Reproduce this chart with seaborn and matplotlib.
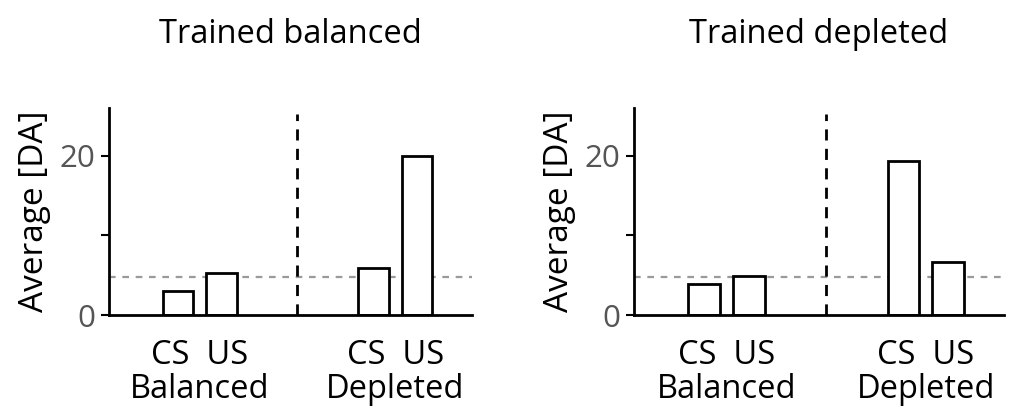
import numpy as np
import pandas as pd
import matplotlib
matplotlib.use("Agg")
import matplotlib.pyplot as plt
import seaborn as sns

# Data
panels = ["Trained balanced", "Trained depleted"]
groups = ["Balanced", "Depleted"]
stimuli = ["CS", "US"]
balanced_panel = [3.0, 5.3, 5.95, 20.0]   # CS/US balanced, CS/US depleted
depleted_panel = [3.9, 4.85, 19.4, 6.7]
baseline = [4.75, 4.75]
yticks = [0, 10, 20]
ytick_labels = ["0", "", "20"]

sns.set_theme(style="ticks")
plt.rcParams["font.family"] = ["Open Sans", "DejaVu Sans"]
plt.rcParams["text.color"] = "black"

group_gap = 4.45   # distance between group starts, in bar spacings
rows = []
for p, vals in zip(panels, [balanced_panel, depleted_panel]):
    k = 0
    for gi, g in enumerate(groups):
        for si, s in enumerate(stimuli):
            rows.append({"panel": p, "group": g, "stimulus": s,
                         "xpos": gi * group_gap + si, "value": vals[k]})
            k += 1
df = pd.DataFrame(rows)

fig = plt.figure(figsize=(10.11, 4.07), dpi=100)
ax_pos = [[0.1078, 0.226, 0.359, 0.5086], [0.627, 0.226, 0.366, 0.5086]]

for i, p in enumerate(panels):
    ax = fig.add_axes(ax_pos[i])
    sub = df[df["panel"] == p]
    sns.barplot(data=sub, x="xpos", y="value", native_scale=True, width=0.7,
                color="white", edgecolor="black", linewidth=2, errorbar=None,
                ax=ax)
    ax.axhline(baseline[i], color="#9a9a9a", ls=(0, (3, 3)), lw=1.6, zorder=0.5)
    ax.axvline((group_gap + 1) / 2, ymin=0, ymax=0.97, color="black",
               ls=(0, (4, 3)), lw=2)
    ax.set_xlim(-1.57, 6.7)
    ax.set_ylim(0, 26)
    ax.set_yticks(yticks)
    ax.set_yticklabels(ytick_labels, color="#555555", fontsize=22.5)
    ax.set_xticks([0.5, group_gap + 0.5])
    ax.set_xticklabels([f"{s[0]}  {s[1]}\n{g}" for s, g in
                        [(stimuli, groups[0]), (stimuli, groups[1])]],
                       fontsize=23.5, linespacing=1.05, color="black")
    ax.tick_params(axis="x", length=0, pad=17)
    ax.tick_params(axis="y", length=6, width=1.5, color="black", pad=4)
    ax.set_xlabel("")
    ax.set_ylabel("Average [DA]", fontsize=24, labelpad=6, color="black")
    for side in ["top", "right"]:
        ax.spines[side].set_visible(False)
    for side in ["left", "bottom"]:
        ax.spines[side].set_linewidth(2)
        ax.spines[side].set_color("black")
    fig.text(ax_pos[i][0] + ax_pos[i][2] / 2, 0.915, p, ha="center",
             va="center", fontsize=23.5, color="black")

fig.savefig("out.png", dpi=100)
